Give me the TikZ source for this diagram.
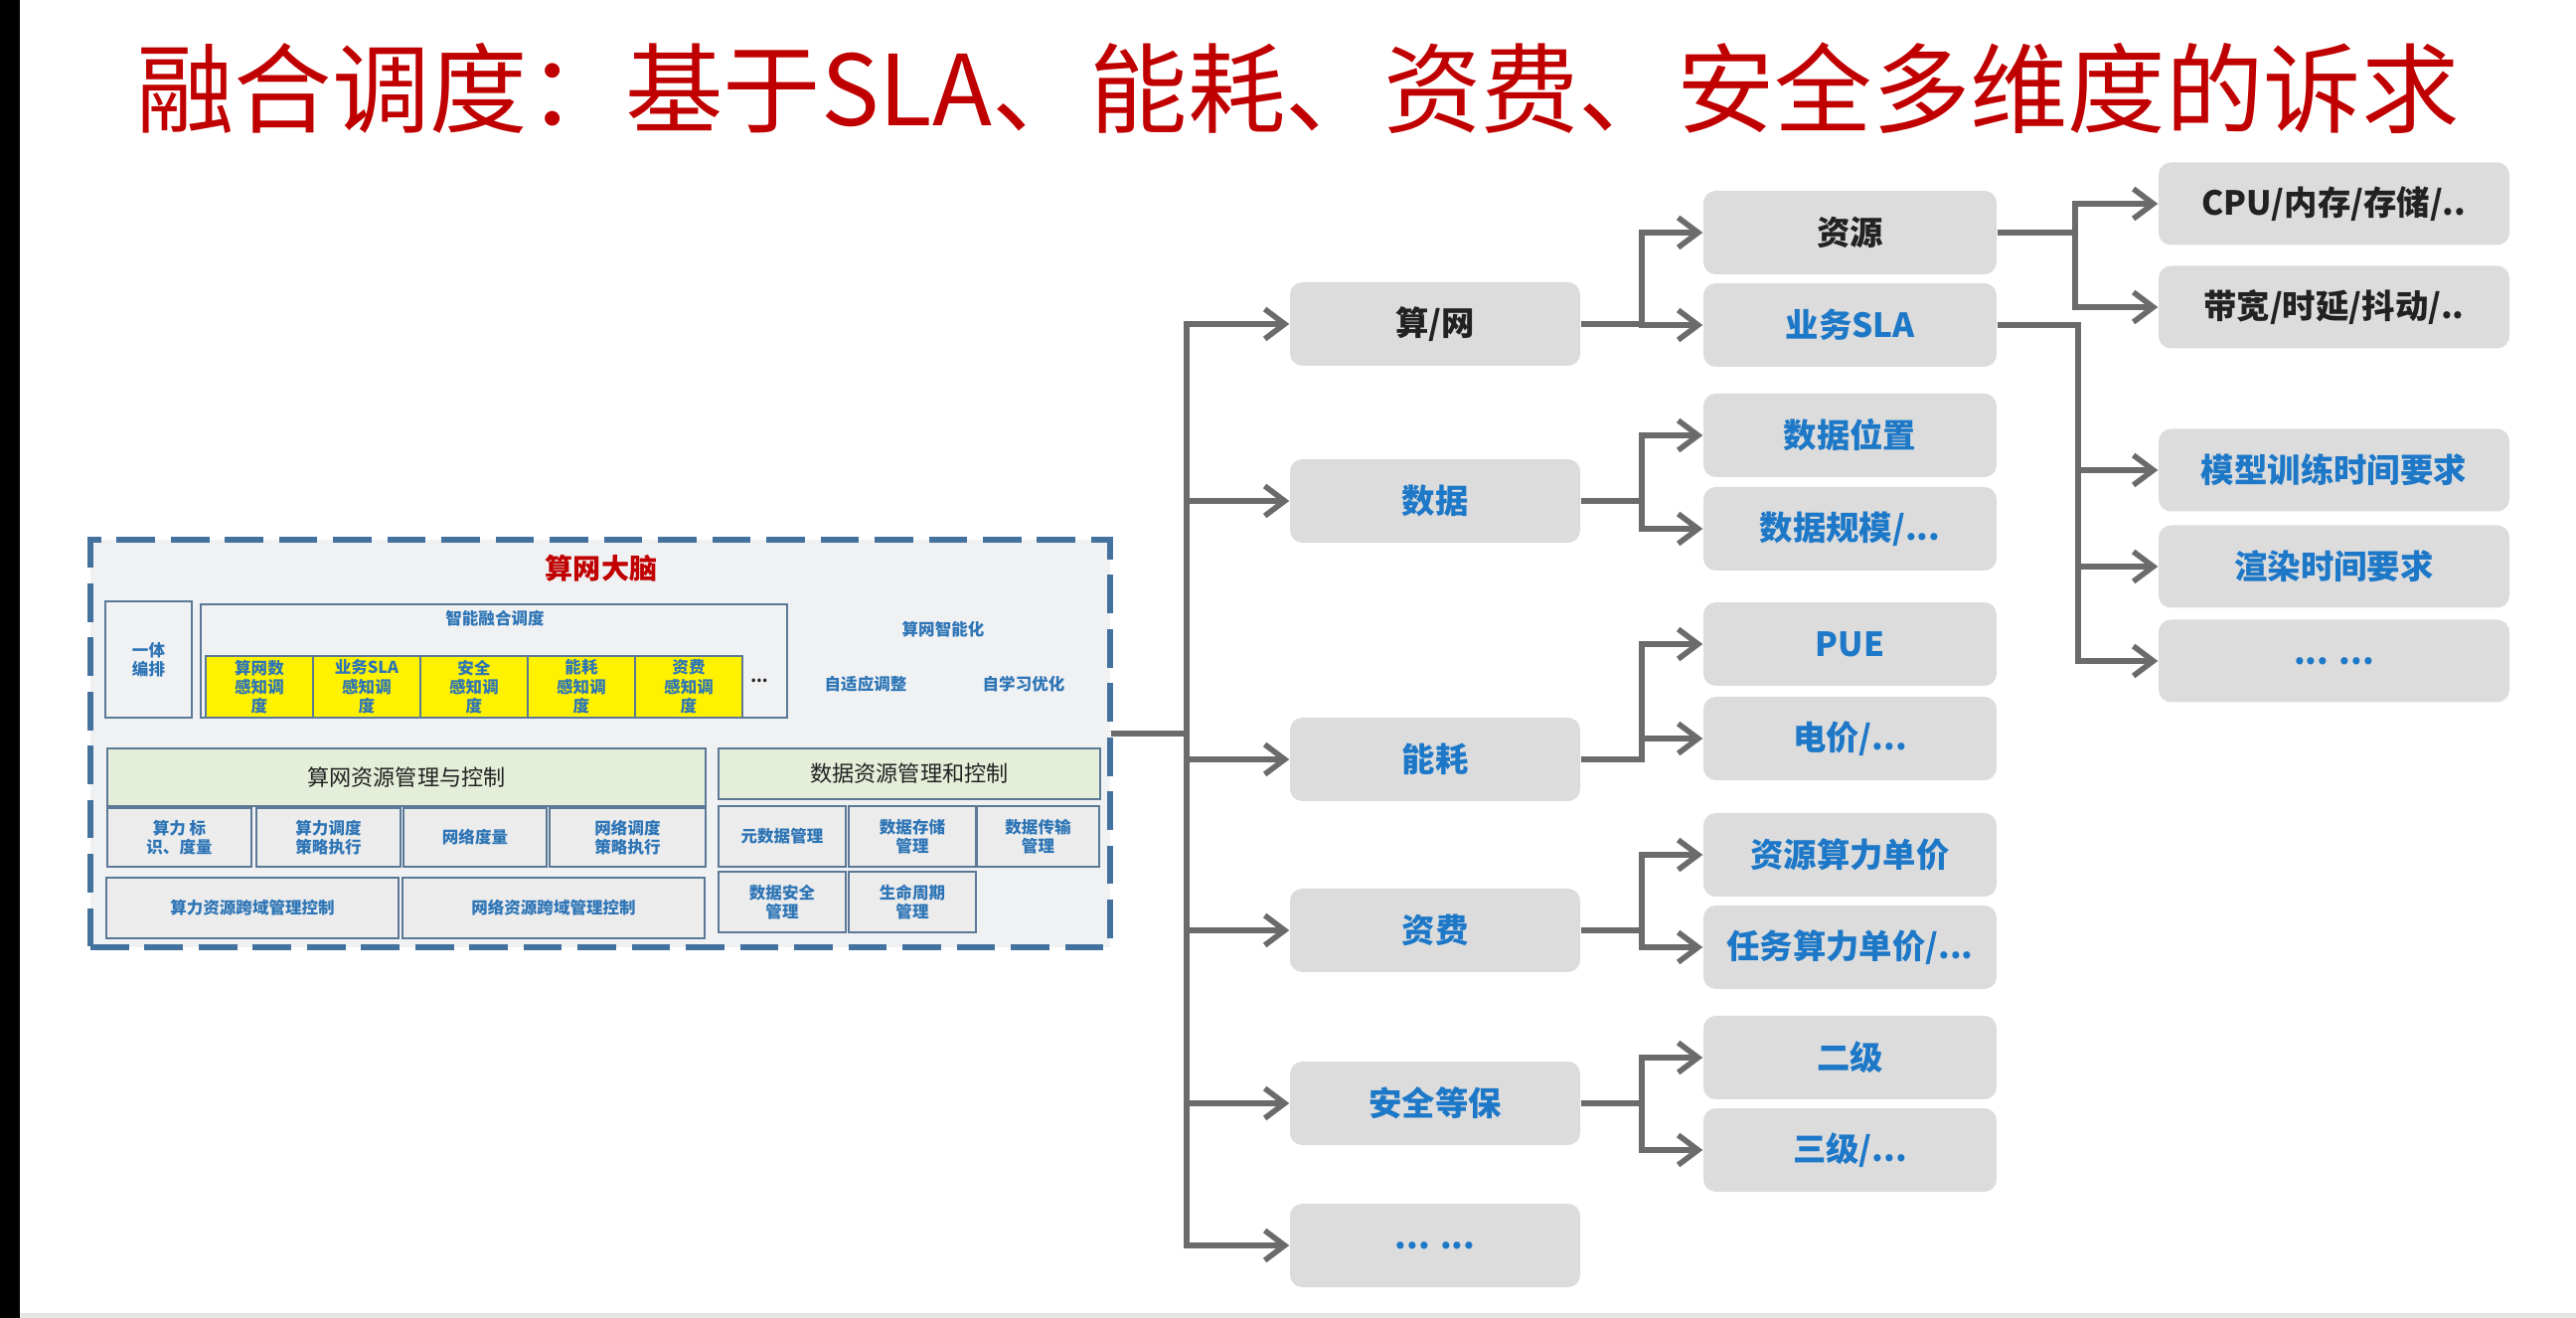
\documentclass[tikz,border=0pt]{standalone}
\usepackage{fontspec}
\setmainfont{Noto Sans CJK SC}
\usepackage{tikz}
\usetikzlibrary{arrows.meta}
\definecolor{titlered}{HTML}{C00000}
\definecolor{deepblue}{HTML}{2E75B6}
\definecolor{treeblue}{HTML}{1E78C8}
\definecolor{framec}{HTML}{44729E}
\definecolor{cellline}{HTML}{5B7896}
\definecolor{cellfill}{HTML}{ECECEC}
\definecolor{panel}{HTML}{F0F1F3}
\definecolor{hdrgreen}{HTML}{E4EED9}
\definecolor{boxgray}{HTML}{DCDCDC}
\definecolor{wire}{HTML}{6B6B6B}
\definecolor{ink}{HTML}{222222}
\tikzset{
  brainframe/.style={draw=framec, fill=panel, line width=1.7pt, dash pattern=on 11pt off 4.5pt, inner sep=0pt},
  outline/.style={draw=cellline, line width=0.6pt, inner sep=0pt},
  plain/.style={text=deepblue, align=center, font=\fontsize{4.7}{5.5}\selectfont\bfseries},
  cellbox/.style={outline, plain, fill=cellfill},
  ycell/.style={cellbox, fill=yellow},
  hdr/.style={cellbox, fill=hdrgreen, text=ink, font=\fontsize{6.3}{7.5}\selectfont},
  req/.style={fill=boxgray, rounded corners=3.5pt, inner sep=0pt, minimum height=0.84cm, font=\fontsize{9.5}{11}\selectfont\bfseries, text=treeblue},
  reqk/.style={req, text=ink},
  conn/.style={draw=wire, line width=1.6pt, -{Straight Barb[length=0.2cm,width=0.3cm]}}
}
\newcommand{\ForkTo}[3]{%
  \draw[conn] (#1.east) -- (#1.east -| #2) -- (#3.west -| #2) -- (#3.west);
}

\begin{document}
\begin{tikzpicture}
  \useasboundingbox (0,0) rectangle (25.92,-13.26);
  \fill[black] (0,0) rectangle (0.2,-13.26);
  \fill[black!10] (0.2,-13.21) rectangle (25.92,-13.26);

  \node[font=\fontsize{28}{30}\selectfont, text=titlered] (title) at (13.06,-0.89) {融合调度：基于SLA、能耗、资费、安全多维度的诉求};

  % computing-network brain
  \node[brainframe, minimum width=10.26cm, minimum height=4.10cm] (brain) at (6.04,-7.48) {};
  \node[font=\fontsize{8}{9}\selectfont\bfseries, text=titlered] (brainlab) at (6.05,-5.72) {算网大脑};
  \node[outline, plain, minimum width=0.87cm, minimum height=1.17cm] (ytbp) at (1.495,-6.635) {一体\\编排};
  \node[outline, minimum width=5.90cm, minimum height=1.14cm] (znrh) at (4.97,-6.65) {};
  \node[plain] (znrhlab) at (4.98,-6.22) {智能融合调度};
  \foreach \t [count=\i] in {{算网数\\感知调\\度},{业务SLA\\感知调\\度},{安全\\感知调\\度},{能耗\\感知调\\度},{资费\\感知调\\度}}
    \node[ycell, minimum width=1.08cm, minimum height=0.62cm] (y\i) at ({1.53+1.08*\i},-6.91) {\t};
  \node[plain, text=ink] (ydots) at (7.64,-6.85) {...};
  \node[plain] (znzn) at (9.49,-6.33) {算网智能化};
  \node[plain] (zsy) at (8.71,-6.88) {自适应调整};
  \node[plain] (zxx) at (10.30,-6.88) {自学习优化};

  \node[hdr, minimum width=6.02cm, minimum height=0.58cm] (swzy) at (4.09,-7.82) {算网资源管理与控制};
  \node[cellbox, minimum width=1.45cm, minimum height=0.59cm] (slbs) at (1.805,-8.425) {算力 标\\识、度量};
  \node[cellbox, minimum width=1.45cm, minimum height=0.59cm] (sldd) at (3.305,-8.425) {算力调度\\策略执行};
  \node[cellbox, minimum width=1.44cm, minimum height=0.59cm] (wldl) at (4.78,-8.425) {网络度量};
  \node[cellbox, minimum width=1.57cm, minimum height=0.59cm] (wldd) at (6.315,-8.425) {网络调度\\策略执行};
  \node[cellbox, minimum width=2.94cm, minimum height=0.61cm] (slky) at (2.54,-9.135) {算力资源跨域管理控制};
  \node[cellbox, minimum width=3.04cm, minimum height=0.61cm] (wlky) at (5.57,-9.135) {网络资源跨域管理控制};

  \node[hdr, minimum width=3.84cm, minimum height=0.51cm] (sjzy) at (9.15,-7.785) {数据资源管理和控制};
  \node[cellbox, minimum width=1.28cm, minimum height=0.61cm] (ysj) at (7.87,-8.415) {元数据管理};
  \node[cellbox, minimum width=1.28cm, minimum height=0.61cm] (sjcc) at (9.18,-8.415) {数据存储\\管理};
  \node[cellbox, minimum width=1.23cm, minimum height=0.61cm] (sjcs) at (10.445,-8.415) {数据传输\\管理};
  \node[cellbox, minimum width=1.28cm, minimum height=0.61cm] (sjaq) at (7.87,-9.075) {数据安全\\管理};
  \node[cellbox, minimum width=1.28cm, minimum height=0.61cm] (smzq) at (9.18,-9.075) {生命周期\\管理};

  % requirement tree
  \node[reqk, minimum width=2.92cm] (sw) at (14.44,-3.26) {算/网};
  \node[req, minimum width=2.92cm] (sj) at (14.44,-5.04) {数据};
  \node[req, minimum width=2.92cm] (nh) at (14.44,-7.64) {能耗};
  \node[req, minimum width=2.92cm] (zf) at (14.44,-9.36) {资费};
  \node[req, minimum width=2.92cm] (aq) at (14.44,-11.10) {安全等保};
  \node[req, minimum width=2.92cm] (moreA) at (14.44,-12.53) {... ...};

  \node[reqk, minimum width=2.95cm] (zy) at (18.615,-2.34) {资源};
  \node[req, minimum width=2.95cm] (sla) at (18.615,-3.27) {业务SLA};
  \node[req, minimum width=2.95cm] (wz) at (18.615,-4.38) {数据位置};
  \node[req, minimum width=2.95cm] (gm) at (18.615,-5.32) {数据规模/...};
  \node[req, minimum width=2.95cm] (pue) at (18.615,-6.48) {PUE};
  \node[req, minimum width=2.95cm] (dj) at (18.615,-7.43) {电价/...};
  \node[req, minimum width=2.95cm] (zydj) at (18.615,-8.60) {资源算力单价};
  \node[req, minimum width=2.95cm] (rwdj) at (18.615,-9.53) {任务算力单价/...};
  \node[req, minimum width=2.95cm] (ej) at (18.615,-10.64) {二级};
  \node[req, minimum width=2.95cm] (sanj) at (18.615,-11.57) {三级/...};

  \node[reqk, minimum width=3.53cm, minimum height=0.83cm] (cpu) at (23.485,-2.05) {CPU/内存/存储/..};
  \node[reqk, minimum width=3.53cm, minimum height=0.83cm] (dk) at (23.485,-3.09) {带宽/时延/抖动/..};
  \node[req, minimum width=3.53cm, minimum height=0.83cm] (mx) at (23.485,-4.73) {模型训练时间要求};
  \node[req, minimum width=3.53cm, minimum height=0.83cm] (xr) at (23.485,-5.70) {渲染时间要求};
  \node[req, minimum width=3.53cm, minimum height=0.83cm] (moreC) at (23.485,-6.65) {... ...};

  \node[inner sep=0pt, minimum size=0pt] (out) at (11.17,-7.38) {};
  \coordinate (trunk) at (11.94,0);
  \coordinate (jb) at (16.52,0);
  \coordinate (jc) at (20.88,0);
  \coordinate (jd) at (20.91,0);

  \foreach \c in {sw,sj,nh,zf,aq,moreA} {\ForkTo{out}{trunk}{\c}}
  \ForkTo{sw}{jb}{zy}  \ForkTo{sw}{jb}{sla}
  \ForkTo{sj}{jb}{wz}  \ForkTo{sj}{jb}{gm}
  \ForkTo{nh}{jb}{pue} \ForkTo{nh}{jb}{dj}
  \ForkTo{zf}{jb}{zydj} \ForkTo{zf}{jb}{rwdj}
  \ForkTo{aq}{jb}{ej}  \ForkTo{aq}{jb}{sanj}
  \ForkTo{zy}{jc}{cpu} \ForkTo{zy}{jc}{dk}
  \foreach \c in {mx,xr,moreC} {\ForkTo{sla}{jd}{\c}}
\end{tikzpicture}
\end{document}
